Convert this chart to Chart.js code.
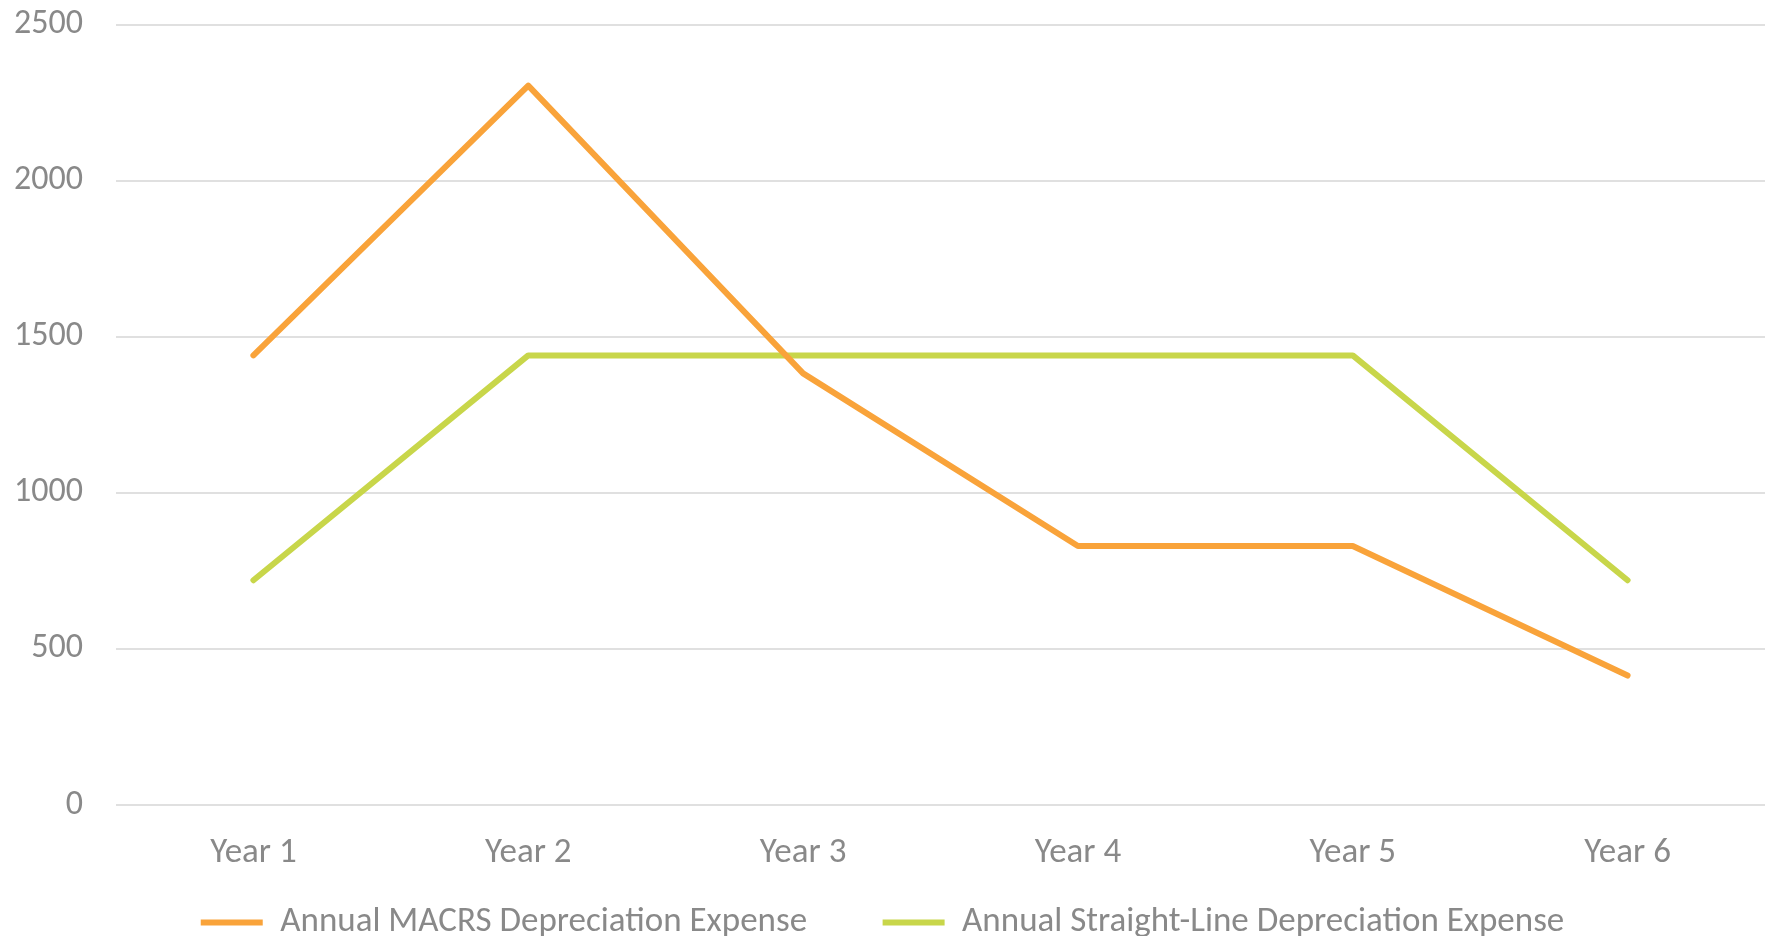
<!DOCTYPE html>
<html>
<head>
<meta charset="utf-8">
<script src="https://cdn.jsdelivr.net/npm/chart.js@4/dist/chart.umd.min.js"></script>
<style>
  html, body { margin: 0; padding: 0; background: #ffffff; overflow: hidden; }
  #wrap { width: 1765px; height: 936px; position: relative; overflow: hidden; }
</style>
</head>
<body>
<div id="wrap"><canvas id="c" width="1765" height="950"></canvas></div>
<script>
const categories = ["Year 1", "Year 2", "Year 3", "Year 4", "Year 5", "Year 6"];
const macrsValues = [1440, 2304, 1382.4, 829.44, 829.44, 414.72];
const straightLineValues = [720, 1440, 1440, 1440, 1440, 720];
const seriesNames = ["Annual MACRS Depreciation Expense", "Annual Straight-Line Depreciation Expense"];
const yTicks = [0, 500, 1000, 1500, 2000, 2500];

const FONT = "Carlito, Calibri, Lato, sans-serif";
const TEXT = "#898989";
const ITEM_GAP = "     "; // extra space after the first legend entry

new Chart(document.getElementById("c"), {
  type: "line",
  data: {
    labels: categories,
    datasets: [
      { label: seriesNames[0], data: macrsValues, borderColor: "#F9A33A", backgroundColor: "#F9A33A",
        borderWidth: 6, pointRadius: 0, pointHoverRadius: 0, tension: 0, borderCapStyle: "round", borderJoinStyle: "round" },
      { label: seriesNames[1], data: straightLineValues, borderColor: "#C8D64A", backgroundColor: "#C8D64A",
        borderWidth: 6, pointRadius: 0, pointHoverRadius: 0, tension: 0, borderCapStyle: "round", borderJoinStyle: "round" }
    ]
  },
  options: {
    responsive: false,
    animation: false,
    layout: { padding: { top: 0, right: 0, bottom: 0, left: 0 } },
    plugins: {
      tooltip: { enabled: false },
      legend: {
        position: "bottom",
        labels: {
          usePointStyle: true,
          pointStyle: "line",
          pointStyleWidth: 62,
          font: { family: FONT, size: 35 },
          color: TEXT,
          padding: 36,
          generateLabels: (chart) => {
            const items = Chart.defaults.plugins.legend.labels.generateLabels(chart);
            items.forEach((it, i) => { if (i < items.length - 1) it.text = it.text + ITEM_GAP; });
            return items;
          }
        }
      }
    },
    scales: {
      x: {
        offset: true,
        grid: { display: false, drawTicks: false },
        border: { display: false },
        ticks: { font: { family: FONT, size: 35 }, color: TEXT, padding: 27, maxRotation: 0, autoSkip: false },
        afterFit: (s) => { s.height = 64; }
      },
      y: {
        min: 0, max: 2500,
        afterBuildTicks: (s) => { s.ticks = yTicks.map(v => ({ value: v })); },
        grid: { color: "#e0e0e0", lineWidth: 2, drawTicks: false },
        border: { display: false },
        ticks: { font: { family: FONT, size: 34 }, color: TEXT, padding: 33, callback: (v) => String(v) },
        afterFit: (s) => { s.width = 116; s.paddingTop = 24.5; s.paddingBottom = 0; }
      }
    }
  }
});
</script>
</body>
</html>
